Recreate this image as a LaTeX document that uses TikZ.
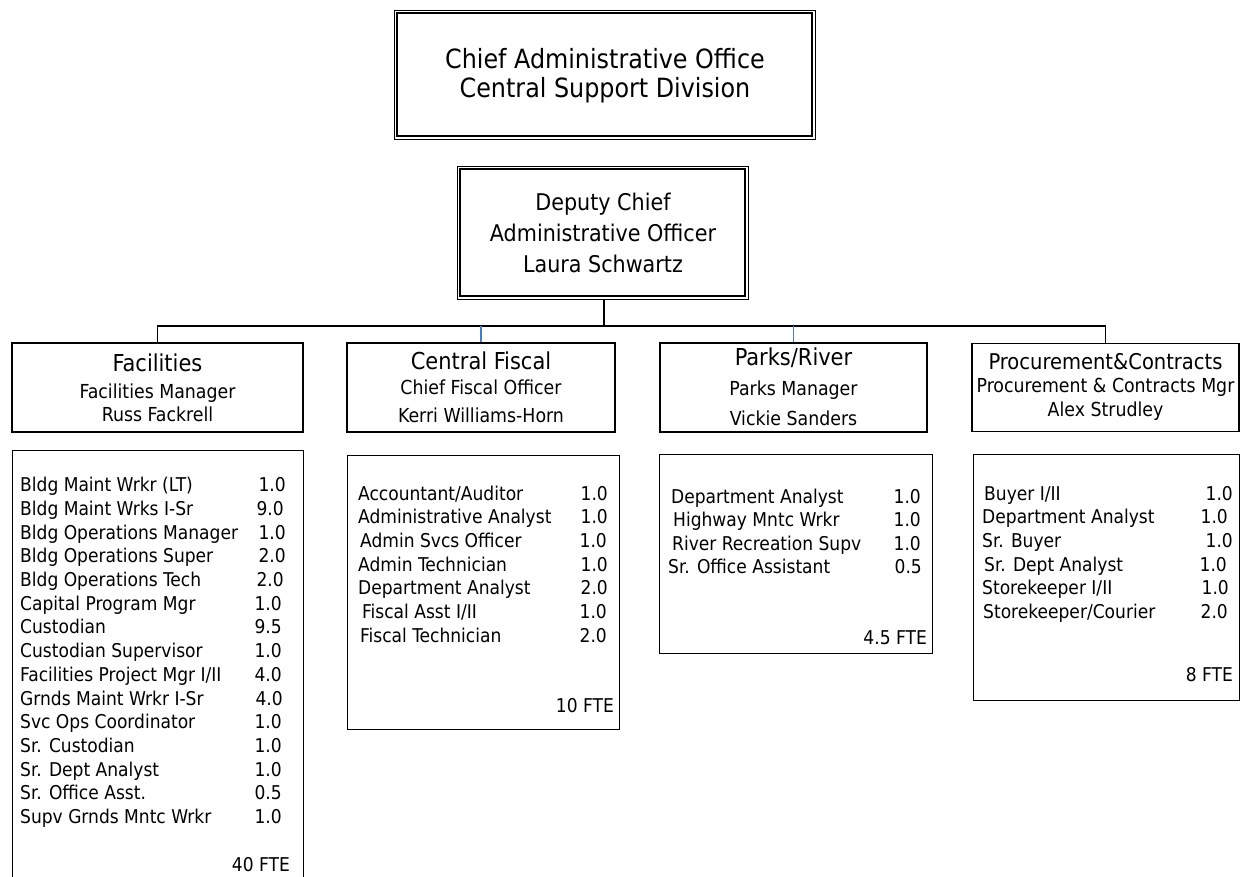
\documentclass[tikz,border=0pt]{standalone}
\usepackage{fontspec}
\setmainfont{DejaVu Sans Condensed}
\definecolor{linkblue}{RGB}{74,126,187}
\newcommand\staff[6]{%
  \node[item,anchor=base west] (#1-t) at (#2,#4) {#5};
  \node[item,anchor=base east] (#1-v) at (#3,#4) {#6};}
\begin{document}
\begin{tikzpicture}[x=1pt,y=-1pt,
  box/.style={draw, line width=1.3pt, rectangle, inner sep=0pt},
  dbox/.style={draw, line width=0.9pt, rectangle, inner sep=0pt},
  big/.style={inner sep=0pt, anchor=base, font=\fontsize{26.5}{30}\selectfont},
  dep/.style={inner sep=0pt, anchor=base, font=\fontsize{23}{28}\selectfont},
  head/.style={inner sep=0pt, anchor=base, font=\fontsize{23.3}{27}\selectfont},
  sub/.style={inner sep=0pt, anchor=base, font=\fontsize{19.3}{23}\selectfont},
  item/.style={inner sep=0pt, font=\fontsize{19}{23}\selectfont},
  wire/.style={line width=1.3pt},
  bluewire/.style={line width=1.1pt, linkblue}]
\useasboundingbox (0,0) rectangle (1243,876);
\clip (0,0) rectangle (1243,876);

% top office box with double frame
\node[dbox, minimum width=421pt, minimum height=129pt] (cao) at (604.5,74.5) {};
\draw[line width=2pt] ([shift={(3.5,3.5)}]cao.north west) rectangle ([shift={(-3.5,-3.5)}]cao.south east);
\node[big] (cao-1) at (605,68.3) {Chief Administrative Office};
\node[big] (cao-2) at (605,97) {Central Support Division};

% deputy box with double frame
\node[dbox, minimum width=291pt, minimum height=133pt] (dca) at (602.5,232.5) {};
\draw[line width=2pt] ([shift={(3.5,3.5)}]dca.north west) rectangle ([shift={(-3.5,-3.5)}]dca.south east);
\node[dep] (dca-1) at (603,210) {Deputy Chief};
\node[dep] (dca-2) at (603,241.5) {Administrative Officer};
\node[dep] (dca-3) at (603,272) {Laura Schwartz};

% division header boxes
\node[box, minimum width=291pt, minimum height=89pt] (fac) at (157.5,387.5) {};
\node[box, minimum width=268pt, minimum height=89pt] (fis) at (481,387.5) {};
\node[box, minimum width=267pt, minimum height=89pt] (par) at (793.5,387.5) {};
\node[box, minimum width=267pt, minimum height=88pt] (pro) at (1105.5,387.5) {};

% connectors
\coordinate (bus) at (604,326);
\draw[wire] (dca.south -| bus) -- (bus);
\draw[wire] (fac.north) -- (fac.north |- bus) -- (pro.north |- bus) -- (pro.north);
\draw[bluewire] (fis.north |- bus) -- (fis.north);
\draw[bluewire] (par.north |- bus) -- (par.north);

% header texts
\node[head] (fac-1) at (157.5,371.7) {Facilities};
\node[sub] (fac-2) at (157.5,398.3) {Facilities Manager};
\node[sub] (fac-3) at (157.5,421.7) {Russ Fackrell};
\node[head] (fis-1) at (481,369.3) {Central Fiscal};
\node[sub] (fis-2) at (481,394.3) {Chief Fiscal Officer};
\node[sub] (fis-3) at (481,422.3) {Kerri Williams-Horn};
\node[head] (par-1) at (793.5,365.7) {Parks/River};
\node[sub] (par-2) at (793.5,395) {Parks Manager};
\node[sub] (par-3) at (793.5,425) {Vickie Sanders};
\node[head, font=\fontsize{21.7}{25}\selectfont] (pro-1) at (1105.5,369) {Procurement\&Contracts};
\node[sub] (pro-2) at (1105.5,392.3) {Procurement \& Contracts Mgr};
\node[sub] (pro-3) at (1105.5,416.7) {Alex Strudley};

% staff list boxes
\node[box, minimum width=291pt, minimum height=440pt, anchor=north west] (facL) at (12,450) {};
\node[box, minimum width=272pt, minimum height=274pt, anchor=north west] (fisL) at (347,455) {};
\node[box, minimum width=273pt, minimum height=199pt, anchor=north west] (parL) at (659,454) {};
\node[box, minimum width=266pt, minimum height=246pt, anchor=north west] (proL) at (973,454) {};

% Facilities staff
\staff{f1}{20}{286}{491.7}{Bldg Maint Wrkr (LT)}{1.0}
\staff{f2}{20}{284}{515.4}{Bldg Maint Wrks I-Sr}{9.0}
\staff{f3}{20}{286}{539.1}{Bldg Operations Manager}{1.0}
\staff{f4}{20}{286}{562.8}{Bldg Operations Super}{2.0}
\staff{f5}{20}{284}{586.5}{Bldg Operations Tech}{2.0}
\staff{f6}{20}{282}{610.2}{Capital Program Mgr}{1.0}
\staff{f7}{20}{282}{633.9}{Custodian}{9.5}
\staff{f8}{20}{282}{657.6}{Custodian Supervisor}{1.0}
\staff{f9}{20}{282}{681.3}{Facilities Project Mgr I/II}{4.0}
\staff{f10}{20}{283}{705}{Grnds Maint Wrkr I-Sr}{4.0}
\staff{f11}{20}{282}{728.7}{Svc Ops Coordinator}{1.0}
\staff{f12}{20}{282}{752.4}{Sr. Custodian}{1.0}
\staff{f13}{20}{282}{776.1}{Sr. Dept Analyst}{1.0}
\staff{f14}{20}{282}{799.8}{Sr. Office Asst.}{0.5}
\staff{f15}{20}{282}{823.5}{Supv Grnds Mntc Wrkr}{1.0}
\node[item, anchor=base east] (f-fte) at (290,871.7) {40 FTE};

% Central Fiscal staff
\staff{c1}{358}{608}{500}{Accountant/Auditor}{1.0}
\staff{c2}{358}{608}{523.7}{Administrative Analyst}{1.0}
\staff{c3}{360}{607}{547.4}{Admin Svcs Officer}{1.0}
\staff{c4}{358}{608}{571.1}{Admin Technician}{1.0}
\staff{c5}{358}{608}{594.8}{Department Analyst}{2.0}
\staff{c6}{362}{607}{618.5}{Fiscal Asst I/II}{1.0}
\staff{c7}{360}{607}{642.2}{Fiscal Technician}{2.0}
\node[item, anchor=base east] (c-fte) at (614,712.7) {10 FTE};

% Parks/River staff
\staff{p1}{671}{921}{503.3}{Department Analyst}{1.0}
\staff{p2}{673}{921}{526.8}{Highway Mntc Wrkr}{1.0}
\staff{p3}{672}{921}{550.3}{River Recreation Supv}{1.0}
\staff{p4}{668}{922}{573.8}{Sr. Office Assistant}{0.5}
\node[item, anchor=base east] (p-fte) at (927,644) {4.5 FTE};

% Procurement staff
\staff{r1}{984}{1233}{500}{Buyer I/II}{1.0}
\staff{r2}{982}{1228}{523.7}{Department Analyst}{1.0}
\staff{r3}{982}{1233}{547.4}{Sr. Buyer}{1.0}
\staff{r4}{984}{1227}{571.1}{Sr. Dept Analyst}{1.0}
\staff{r5}{982}{1229}{594.8}{Storekeeper I/II}{1.0}
\staff{r6}{983}{1228}{618.5}{Storekeeper/Courier}{2.0}
\node[item, anchor=base east] (r-fte) at (1233,681.7) {8 FTE};
\end{tikzpicture}
\end{document}
